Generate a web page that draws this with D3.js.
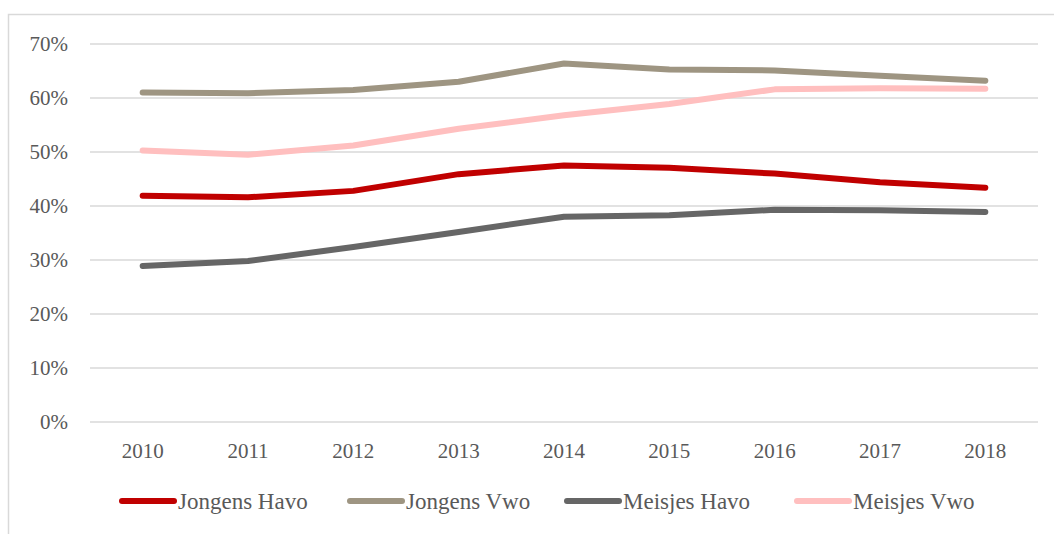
<!DOCTYPE html>
<html>
<head>
<meta charset="utf-8">
<script src="https://cdn.jsdelivr.net/npm/d3@7"></script>
<style>
  body { margin: 0; background: #fff; }
</style>
</head>
<body>
<svg id="chart" width="1054" height="534"></svg>
<script>
var years = ["2010", "2011", "2012", "2013", "2014", "2015", "2016", "2017", "2018"];
var jongensHavo = [41.9, 41.6, 42.8, 45.9, 47.5, 47.1, 46.0, 44.4, 43.4];
var jongensVwo = [61.0, 60.9, 61.5, 63.0, 66.4, 65.3, 65.1, 64.1, 63.2];
var meisjesHavo = [28.9, 29.8, 32.4, 35.2, 38.0, 38.3, 39.3, 39.2, 38.9];
var meisjesVwo = [50.3, 49.5, 51.2, 54.3, 56.8, 58.9, 61.6, 61.8, 61.7];
var yTicks = [0, 10, 20, 30, 40, 50, 60, 70];

var series = [
    {name: "Jongens Havo", values: jongensHavo, color: "#c00000"},
    {name: "Jongens Vwo", values: jongensVwo, color: "#9e9582"},
    {name: "Meisjes Havo", values: meisjesHavo, color: "#666666"},
    {name: "Meisjes Vwo", values: meisjesVwo, color: "#ffbfbf"}
];

var serif = "'Liberation Serif', serif";
var svg = d3.select("#chart");

// chart area border (cut off at right and bottom like the source)
svg.append("rect")
    .attr("x", 8.5).attr("y", 14.5)
    .attr("width", 1100).attr("height", 600)
    .attr("fill", "none")
    .attr("stroke", "#d9d9d9")
    .attr("stroke-width", 1.5);

var x = d3.scaleBand().domain(years).range([90, 1038]);
var y = d3.scaleLinear().domain([0, 70]).range([422, 44]);

function cx(d) { return x(d) + x.bandwidth() / 2; }

// gridlines
svg.append("g")
    .selectAll("line")
    .data(yTicks)
    .enter().append("line")
    .attr("x1", 90).attr("x2", 1038)
    .attr("y1", function(d) { return y(d); })
    .attr("y2", function(d) { return y(d); })
    .attr("stroke", "#d9d9d9")
    .attr("stroke-width", 1.5);

// y labels
svg.append("g")
    .selectAll("text")
    .data(yTicks)
    .enter().append("text")
    .attr("x", 68)
    .attr("y", function(d) { return y(d); })
    .attr("dy", "0.35em")
    .attr("text-anchor", "end")
    .style("font-family", serif)
    .style("font-size", "21px")
    .attr("fill", "#595959")
    .text(function(d) { return d + "%"; });

// x labels
svg.append("g")
    .selectAll("text")
    .data(years)
    .enter().append("text")
    .attr("x", cx)
    .attr("y", 451)
    .attr("dy", "0.35em")
    .attr("text-anchor", "middle")
    .style("font-family", serif)
    .style("font-size", "21px")
    .attr("fill", "#595959")
    .text(function(d) { return d; });

var line = d3.line()
    .x(function(d, i) { return cx(years[i]); })
    .y(function(d) { return y(d); });

svg.append("g")
    .selectAll("path")
    .data(series)
    .enter().append("path")
    .attr("d", function(s) { return line(s.values); })
    .attr("fill", "none")
    .attr("stroke", function(s) { return s.color; })
    .attr("stroke-width", 6)
    .attr("stroke-linecap", "round")
    .attr("stroke-linejoin", "round");

// legend
var legendX = [122, 350, 567, 797];
var legend = svg.append("g")
    .selectAll("g")
    .data(series)
    .enter().append("g")
    .attr("transform", function(s, i) { return "translate(" + legendX[i] + ",501)"; });

legend.append("line")
    .attr("x1", 0).attr("x2", 52)
    .attr("stroke", function(s) { return s.color; })
    .attr("stroke-width", 6)
    .attr("stroke-linecap", "round");

legend.append("text")
    .attr("x", 56)
    .attr("dy", "0.35em")
    .style("font-family", serif)
    .style("font-size", "23px")
    .attr("fill", "#595959")
    .text(function(s) { return s.name; });
</script>
</body>
</html>
